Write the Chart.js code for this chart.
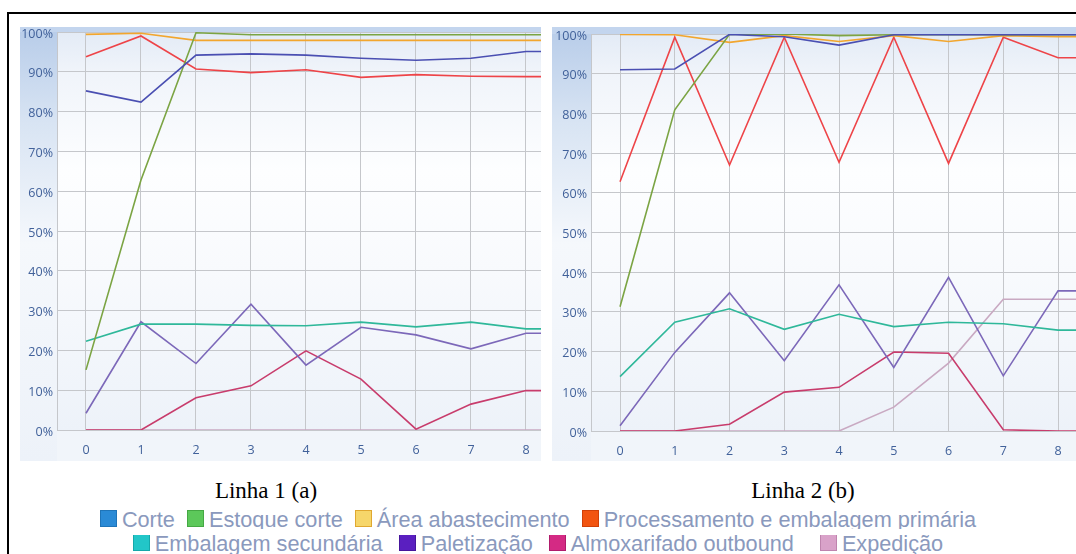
<!DOCTYPE html>
<html><head><meta charset="utf-8">
<script src="https://cdn.jsdelivr.net/npm/chart.js@4.4.1/dist/chart.umd.min.js"></script>
<style>
html,body{margin:0;padding:0;background:#fff;width:1076px;height:554px;overflow:hidden;position:relative;font-family:"Liberation Sans",Arial,sans-serif;}
#frame{position:absolute;left:7px;top:12px;width:1100px;height:600px;border:2px solid #000;box-sizing:border-box;}
canvas{position:absolute;}
#c1{left:20px;top:27px;}
#c2{left:552px;top:27px;}
.cap{position:absolute;top:477px;font-family:"Liberation Serif","Times New Roman",serif;font-size:23px;color:#000;line-height:28px;white-space:nowrap;transform:translateX(-50%);}
.lgrow{position:absolute;left:0;width:1076px;overflow:hidden;}
.lgin{position:absolute;left:0;width:1076px;text-align:center;font-size:21.7px;line-height:24px;color:#8a99bd;white-space:nowrap;}
.sq{display:inline-block;width:15px;height:15px;border:1px solid;margin-right:5px;vertical-align:baseline;}
.it{margin-left:12px;}
.it:first-child{margin-left:0;}
#lg2 .it{margin-left:16px;}
#lg2 .it:first-child{margin-left:0;}
#lg2 .it:last-child{margin-left:26px;}
</style></head>
<body>
<div id="frame"></div>
<canvas id="c1" width="521" height="434"></canvas>
<canvas id="c2" width="524" height="434"></canvas>
<div class="cap" style="left:266px;">Linha 1 (a)</div>
<div class="cap" style="left:803px;">Linha 2 (b)</div>
<div class="lgrow" style="top:500px;height:29px;"><div class="lgin" id="lg1" style="top:7.5px;"></div></div>
<div class="lgrow" style="top:535px;height:19px;"><div class="lgin" id="lg2" style="top:-3.3px;"></div></div>
<script>
// ---- data ----
const PERIODS = [0, 1, 2, 3, 4, 5, 6, 7, 8];
const SERIES_NAMES = ["Corte", "Estoque corte", "Área abastecimento", "Processamento e embalagem primária",
  "Embalagem secundária", "Paletização", "Almoxarifado outbound", "Expedição"];
const Y_TICKS_STEP = 10;

// Linha 1 (a)
const corte1   = [85.2, 82.4, 94.2, 94.5, 94.2, 93.4, 92.9, 93.4, 95.1];
const estoque1 = [15.1, 62.8, 99.8, 99.3, 99.3, 99.3, 99.3, 99.3, 99.3];
const area1    = [99.4, 99.7, 97.9, 97.9, 97.9, 97.9, 97.9, 97.9, 97.9];
const proc1    = [93.8, 99.0, 90.7, 89.8, 90.5, 88.6, 89.3, 88.9, 88.8];
const emb1     = [22.3, 26.6, 26.6, 26.3, 26.2, 27.1, 25.9, 27.1, 25.4];
const palet1   = [4.2, 27.2, 16.7, 31.6, 16.3, 25.8, 23.9, 20.4, 24.3];
const almox1   = [0, 0, 8.1, 11.1, 19.9, 12.8, 0.2, 6.5, 9.9];
const exped1   = [0, 0, 0, 0, 0, 0, 0, 0, 0];

// Linha 2 (b)
const corte2   = [91.0, 91.2, 99.9, 99.3, 97.2, 99.8, 99.8, 99.8, 99.8];
const estoque2 = [31.3, 80.9, 99.9, 100, 99.6, 99.8, 99.8, 99.8, 99.8];
const area2    = [99.9, 99.8, 97.9, 99.6, 98.1, 99.6, 98.1, 99.6, 99.3];
const proc2    = [62.8, 99.2, 67.0, 99.2, 67.7, 99.2, 67.4, 99.2, 94.0];
const emb2     = [13.7, 27.4, 30.8, 25.6, 29.4, 26.3, 27.4, 27.0, 25.4];
const palet2   = [1.3, 19.8, 34.8, 17.7, 36.8, 16.0, 38.7, 13.9, 35.3];
const almox2   = [0, 0, 1.7, 9.8, 11.0, 19.9, 19.6, 0.3, 0];
const exped2   = [0, 0, 0, 0, 0, 6.0, 17.1, 33.2, 33.2];

// ---- styles ----
const LINE_COLORS = ["#4a4fb2", "#7ba443", "#f2a62e", "#ee4448", "#2fb89a", "#7c68b9", "#c83c6c", "#c9a9c2"];
const LEGEND_COLORS = ["#2a8ad6", "#5cc85a", "#f6d66a", "#f25410", "#22c6c8", "#5a1fc0", "#d42a84", "#d9a2c9"];
const LEGEND_BORDERS = ["#1f74b8", "#45a844", "#e0a830", "#d04008", "#15a8aa", "#46169c", "#b01c6c", "#bf84ae"];
const TICK_COLOR = "#41619a";
const GRID = "#c5c7cb";

const panelBg = {
  id: 'panelBg',
  beforeDraw(chart) {
    const {ctx, chartArea: a, width, height} = chart;
    ctx.save();
    ctx.fillStyle = '#f1f5fa';
    ctx.fillRect(0, 0, width, height);
    let g = ctx.createLinearGradient(0, 0, 0, height);
    g.addColorStop(0, '#b7cce9'); g.addColorStop(0.22, '#d8e4f3'); g.addColorStop(0.5, '#f5f8fc'); g.addColorStop(1, '#edf2f9');
    ctx.fillStyle = g;
    ctx.fillRect(0, 0, a.left, height);
    ctx.fillStyle = '#c3d5ee';
    ctx.fillRect(0, 0, width, a.top);
    g = ctx.createLinearGradient(0, a.top, 0, a.bottom);
    g.addColorStop(0, '#e3ebf6'); g.addColorStop(0.1, '#f0f4fa'); g.addColorStop(0.35, '#fdfeff');
    g.addColorStop(0.6, '#f8fafd'); g.addColorStop(1, '#edf2f9');
    ctx.fillStyle = g;
    ctx.fillRect(a.left, a.top, a.right - a.left, a.bottom - a.top);
    ctx.restore();
  }
};

function makeChart(id, series, cfg) {
  const datasets = SERIES_NAMES.map((name, i) => {
    const vals = series[i];
    const pts = PERIODS.map((p, j) => ({x: p, y: vals[j]}));
    pts.push({x: cfg.xMax, y: vals[vals.length - 1]});
    return {label: name, data: pts, borderColor: LINE_COLORS[i], backgroundColor: LINE_COLORS[i],
      borderWidth: 1.6, pointRadius: 0, tension: 0, fill: false};
  });
  const font = {family: "'Open Sans', 'DejaVu Sans', sans-serif", size: 12.5};
  return new Chart(document.getElementById(id), {
    type: 'line',
    data: {datasets},
    options: {
      responsive: false, animation: false, events: [],
      layout: {padding: {top: cfg.top, right: 0, left: 0, bottom: 0}},
      plugins: {legend: {display: false}, tooltip: {enabled: false}},
      scales: {
        x: {
          type: 'linear', min: cfg.xMin, max: cfg.xMax,
          ticks: {stepSize: 1, includeBounds: false, autoSkip: false, maxRotation: 0, color: TICK_COLOR, font, padding: 13,
            callback: v => String(v)},
          grid: {color: GRID, drawTicks: false},
          border: {color: GRID},
          afterFit(s) { s.height = cfg.xH; s.paddingLeft = 0; s.paddingRight = 0; }
        },
        y: {
          min: 0, max: 100,
          ticks: {stepSize: Y_TICKS_STEP, color: TICK_COLOR, font, padding: 4, labelOffset: 2,
            callback: v => v + '%'},
          grid: {color: GRID, drawTicks: false},
          border: {color: GRID},
          afterFit(s) { s.width = cfg.yW; s.paddingTop = 0; s.paddingBottom = 0; }
        }
      }
    },
    plugins: [panelBg]
  });
}

makeChart('c1', [corte1, estoque1, area1, proc1, emb1, palet1, almox1, exped1],
  {xMin: -0.527, xMax: 8.273, top: 5, xH: 31, yW: 37});
makeChart('c2', [corte2, estoque2, area2, proc2, emb2, palet2, almox2, exped2],
  {xMin: -0.530, xMax: 8.328, top: 7, xH: 30, yW: 39});

// legend
function buildLegend(el, idxs) {
  idxs.forEach(i => {
    const it = document.createElement('span');
    it.className = 'it';
    const sq = document.createElement('span');
    sq.className = 'sq';
    sq.style.background = LEGEND_COLORS[i];
    sq.style.borderColor = LEGEND_BORDERS[i];
    it.appendChild(sq);
    it.appendChild(document.createTextNode(SERIES_NAMES[i]));
    el.appendChild(it);
  });
}
buildLegend(document.getElementById('lg1'), [0, 1, 2, 3]);
buildLegend(document.getElementById('lg2'), [4, 5, 6, 7]);
</script>
</body></html>
